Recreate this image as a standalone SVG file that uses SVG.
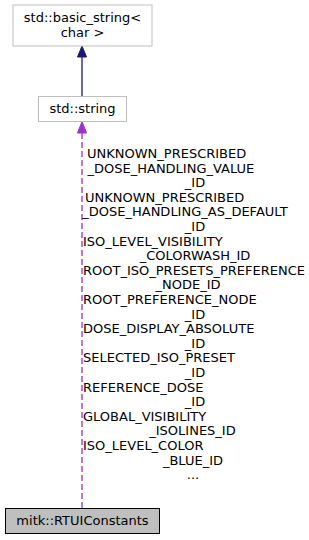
<svg xmlns="http://www.w3.org/2000/svg" width="309" height="540" viewBox="0 0 309 540">
<defs>
<style>
text{font-family:"DejaVu Sans","Liberation Sans",sans-serif;font-size:13px;fill:#000}
.n{fill:#fff;stroke:#bfbfbf;stroke-width:1}
.cur{fill:#bfbfbf;stroke:#000;stroke-width:1}
.m{text-anchor:middle}
</style>
</defs>
<rect width="309" height="540" fill="#fff"/>
<g id="edges">
<g id="edge-inherit">
<line x1="82" y1="96.5" x2="82" y2="57" stroke="#191970" stroke-width="1.3"/>
<polygon points="82,46 77.5,57 86.5,57" fill="#191970" stroke="#191970"/>
</g>
<g id="edge-usage">
<line x1="82" y1="508" x2="82" y2="133" stroke="#9a32cd" stroke-width="1.3" stroke-dasharray="6,3"/>
<polygon points="82,121.5 77.5,133 86.5,133" fill="#9a32cd" stroke="#9a32cd"/>
<text x="87" y="158">UNKNOWN_PRESCRIBED</text>
<text x="87.5" y="172.6">_DOSE_HANDLING_VALUE</text>
<text class="m" x="195" y="187.2">_ID</text>
<text x="85" y="201.8">UNKNOWN_PRESCRIBED</text>
<text class="m" x="185" y="216.4">_DOSE_HANDLING_AS_DEFAULT</text>
<text class="m" x="195" y="231">_ID</text>
<text x="83" y="245.6">ISO_LEVEL_VISIBILITY</text>
<text class="m" x="195" y="260.2">_COLORWASH_ID</text>
<text x="83" y="274.8">ROOT_ISO_PRESETS_PREFERENCE</text>
<text class="m" x="188" y="289.4">_NODE_ID</text>
<text x="83" y="304">ROOT_PREFERENCE_NODE</text>
<text class="m" x="195" y="318.6">_ID</text>
<text x="83" y="333.2">DOSE_DISPLAY_ABSOLUTE</text>
<text class="m" x="195" y="347.8">_ID</text>
<text x="83" y="362.4">SELECTED_ISO_PRESET</text>
<text class="m" x="195" y="377">_ID</text>
<text x="83" y="391.6">REFERENCE_DOSE</text>
<text class="m" x="195" y="406.2">_ID</text>
<text x="83" y="420.8">GLOBAL_VISIBILITY</text>
<text class="m" x="192.5" y="435.4">_ISOLINES_ID</text>
<text x="83" y="450">ISO_LEVEL_COLOR</text>
<text class="m" x="193" y="464.6">_BLUE_ID</text>
<text class="m" x="193" y="479.2">...</text>
</g>
</g>
<g id="node-basic-string">
<rect class="n" x="13" y="5" width="139" height="41"/>
<text class="m" x="82.5" y="21.5">std::basic_string&lt;</text>
<text class="m" x="82.5" y="36.5">char &gt;</text>
</g>
<g id="node-std-string">
<rect class="n" x="38.5" y="96.5" width="88" height="25"/>
<text class="m" x="82.5" y="113">std::string</text>
</g>
<g id="node-rtuiconstants">
<rect class="cur" x="5.5" y="508.5" width="154" height="25"/>
<text class="m" x="82.5" y="525">mitk::RTUIConstants</text>
</g>
</svg>
